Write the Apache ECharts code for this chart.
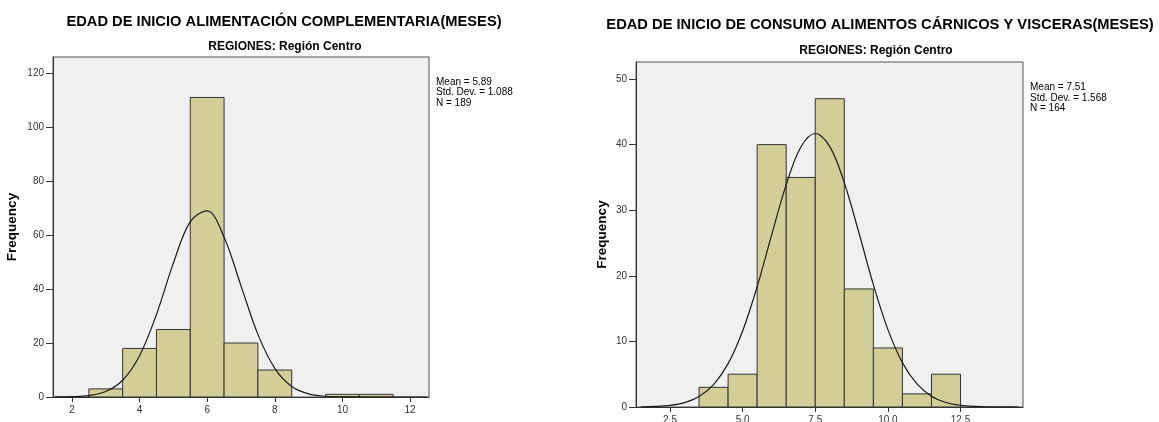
<!DOCTYPE html>
<html>
<head>
<meta charset="utf-8">
<script src="https://cdn.jsdelivr.net/npm/echarts@6/dist/echarts.min.js"></script>
<style>
html,body{margin:0;padding:0;background:#fff;}
#chart{width:1159px;height:422px;}
</style>
</head>
<body>
<div id="chart"></div>
<script>
// ---------- Data ----------
const titleLeft = 'EDAD DE INICIO ALIMENTACIÓN COMPLEMENTARIA(MESES)';
const titleRight = 'EDAD DE INICIO DE CONSUMO ALIMENTOS CÁRNICOS Y VISCERAS(MESES)';
const subTitle = 'REGIONES: Región Centro';
const yName = 'Frequency';

// Histogram bins (centre of each 1-month bin) and counts
const binsLeft = [3, 4, 5, 6, 7, 8, 10, 11];
const countsLeft = [3, 18, 25, 111, 20, 10, 1, 1];
const binsRight = [4, 5, 6, 7, 8, 9, 10, 11, 12];
const countsRight = [3, 5, 40, 35, 47, 18, 9, 2, 5];
const binWidth = 1;

// Summary statistics shown in the chart
const statsLeft = ['Mean = 5.89', 'Std. Dev. = 1.088', 'N = 189'];
const statsRight = ['Mean = 7.51', 'Std. Dev. = 1.568', 'N = 164'];

// Normal curve, points
const curveXLeft = [1.5, 2, 2.5, 3, 3.5, 4, 4.5, 5, 5.5, 6, 6.5, 7, 7.5, 8, 8.5, 9, 9.5, 10, 10.5, 11, 11.5, 12, 12.5];
const curveYLeft = [0.02, 0.12, 0.54, 2.04, 6.2, 15.3, 30.6, 49.6, 65.0, 69.0, 59.2, 41.2, 23.2, 10.6, 3.9, 1.17, 0.28, 0.06, 0.01, 0, 0, 0, 0];
const curveXRight = [1.5, 2, 2.5, 3, 3.5, 4, 4.5, 5, 5.5, 6, 6.5, 7, 7.5, 8, 8.5, 9, 9.5, 10, 10.5, 11, 11.5, 12, 12.5, 13, 13.5, 14, 14.5];
const curveYRight = [0.03, 0.09, 0.25, 0.67, 1.59, 3.41, 6.61, 11.6, 18.35, 26.25, 33.9, 39.6, 41.7, 39.7, 34.2, 26.6, 18.65, 11.8, 6.77, 3.51, 1.64, 0.69, 0.26, 0.09, 0.03, 0.01, 0];

// Axis ticks
const xTicksLeft = [2, 4, 6, 8, 10, 12];
const yTicksLeft = [0, 20, 40, 60, 80, 100, 120];
const xTicksRight = [2.5, 5, 7.5, 10, 12.5];
const yTicksRight = [0, 10, 20, 30, 40, 50];

// ---------- Chart ----------
const FONT = '"Liberation Sans", Arial, sans-serif';
const zip = (a, b) => a.map((v, i) => [v, b[i]]);

function barRender(params, api) {
  const x = api.value(0), y = api.value(1);
  const p0 = api.coord([x - binWidth / 2, 0]);
  const p1 = api.coord([x + binWidth / 2, y]);
  return {
    type: 'rect',
    shape: { x: p0[0], y: p1[1], width: p1[0] - p0[0], height: p0[1] - p1[1] },
    style: { fill: '#d3ce97', stroke: '#333', lineWidth: 1 }
  };
}

function xAxis(gridIndex, min, max, ticks, fmt) {
  return {
    type: 'value', gridIndex, min, max,
    splitLine: { show: false },
    axisLine: { show: true, lineStyle: { color: '#333', width: 1 } },
    axisTick: { show: true, length: 5, customValues: ticks, lineStyle: { color: '#333' } },
    axisLabel: { customValues: ticks, margin: 8, color: '#333', fontSize: 10, fontFamily: FONT, formatter: fmt }
  };
}
function yAxis(gridIndex, max, ticks, gap) {
  return {
    type: 'value', gridIndex, min: 0, max,
    name: yName, nameLocation: 'middle', nameRotate: 90, nameGap: gap,
    nameTextStyle: { fontSize: 13.5, fontWeight: 'bold', color: '#000', fontFamily: FONT },
    splitLine: { show: false },
    axisLine: { show: true, lineStyle: { color: '#333', width: 1 } },
    axisTick: { show: true, length: 7, customValues: ticks, lineStyle: { color: '#333' } },
    axisLabel: { customValues: ticks, margin: 9, color: '#333', fontSize: 10, fontFamily: FONT }
  };
}
function textEl(x, y, text, font, align) {
  return { type: 'text', x, y, style: { text, font, fill: '#000', textAlign: align || 'center', textVerticalAlign: 'middle' } };
}

const chart = echarts.init(document.getElementById('chart'), null, { renderer: 'canvas' });
chart.setOption({
  animation: false,
  backgroundColor: '#fff',
  grid: [
    { left: 53, top: 57, width: 376, height: 340, show: true, backgroundColor: '#f0f0f0', borderColor: '#555', borderWidth: 1, containLabel: false, outerBoundsMode: 'none' },
    { left: 636, top: 62, width: 387, height: 345, show: true, backgroundColor: '#f0f0f0', borderColor: '#555', borderWidth: 1, containLabel: false, outerBoundsMode: 'none' }
  ],
  xAxis: [
    xAxis(0, 1.44, 12.56, xTicksLeft, v => String(v)),
    xAxis(1, 1.33, 14.65, xTicksRight, v => Number(v).toFixed(1))
  ],
  yAxis: [
    yAxis(0, 126, yTicksLeft, 34),
    yAxis(1, 52.6, yTicksRight, 27)
  ],
  series: [
    { type: 'custom', xAxisIndex: 0, yAxisIndex: 0, renderItem: barRender, data: zip(binsLeft, countsLeft), clip: true, z: 2 },
    { type: 'line', xAxisIndex: 0, yAxisIndex: 0, data: zip(curveXLeft, curveYLeft), smooth: 0.35, showSymbol: false, symbol: 'none', lineStyle: { color: '#1a1a1a', width: 1.2 }, clip: true, z: 3 },
    { type: 'custom', xAxisIndex: 1, yAxisIndex: 1, renderItem: barRender, data: zip(binsRight, countsRight), clip: true, z: 2 },
    { type: 'line', xAxisIndex: 1, yAxisIndex: 1, data: zip(curveXRight, curveYRight), smooth: 0.35, showSymbol: false, symbol: 'none', lineStyle: { color: '#1a1a1a', width: 1.2 }, clip: true, z: 3 }
  ],
  graphic: [
    textEl(284, 21.5, titleLeft, 'bold 14.7px ' + FONT),
    textEl(880, 24.7, titleRight, 'bold 14.7px ' + FONT),
    textEl(285, 47, subTitle, 'bold 12px ' + FONT),
    textEl(876, 51, subTitle, 'bold 12px ' + FONT),
    textEl(436, 82, statsLeft[0], '10px ' + FONT, 'left'),
    textEl(436, 92.5, statsLeft[1], '10px ' + FONT, 'left'),
    textEl(436, 103, statsLeft[2], '10px ' + FONT, 'left'),
    textEl(1030, 87.3, statsRight[0], '10px ' + FONT, 'left'),
    textEl(1030, 97.8, statsRight[1], '10px ' + FONT, 'left'),
    textEl(1030, 108.3, statsRight[2], '10px ' + FONT, 'left')
  ]
});
</script>
</body>
</html>
